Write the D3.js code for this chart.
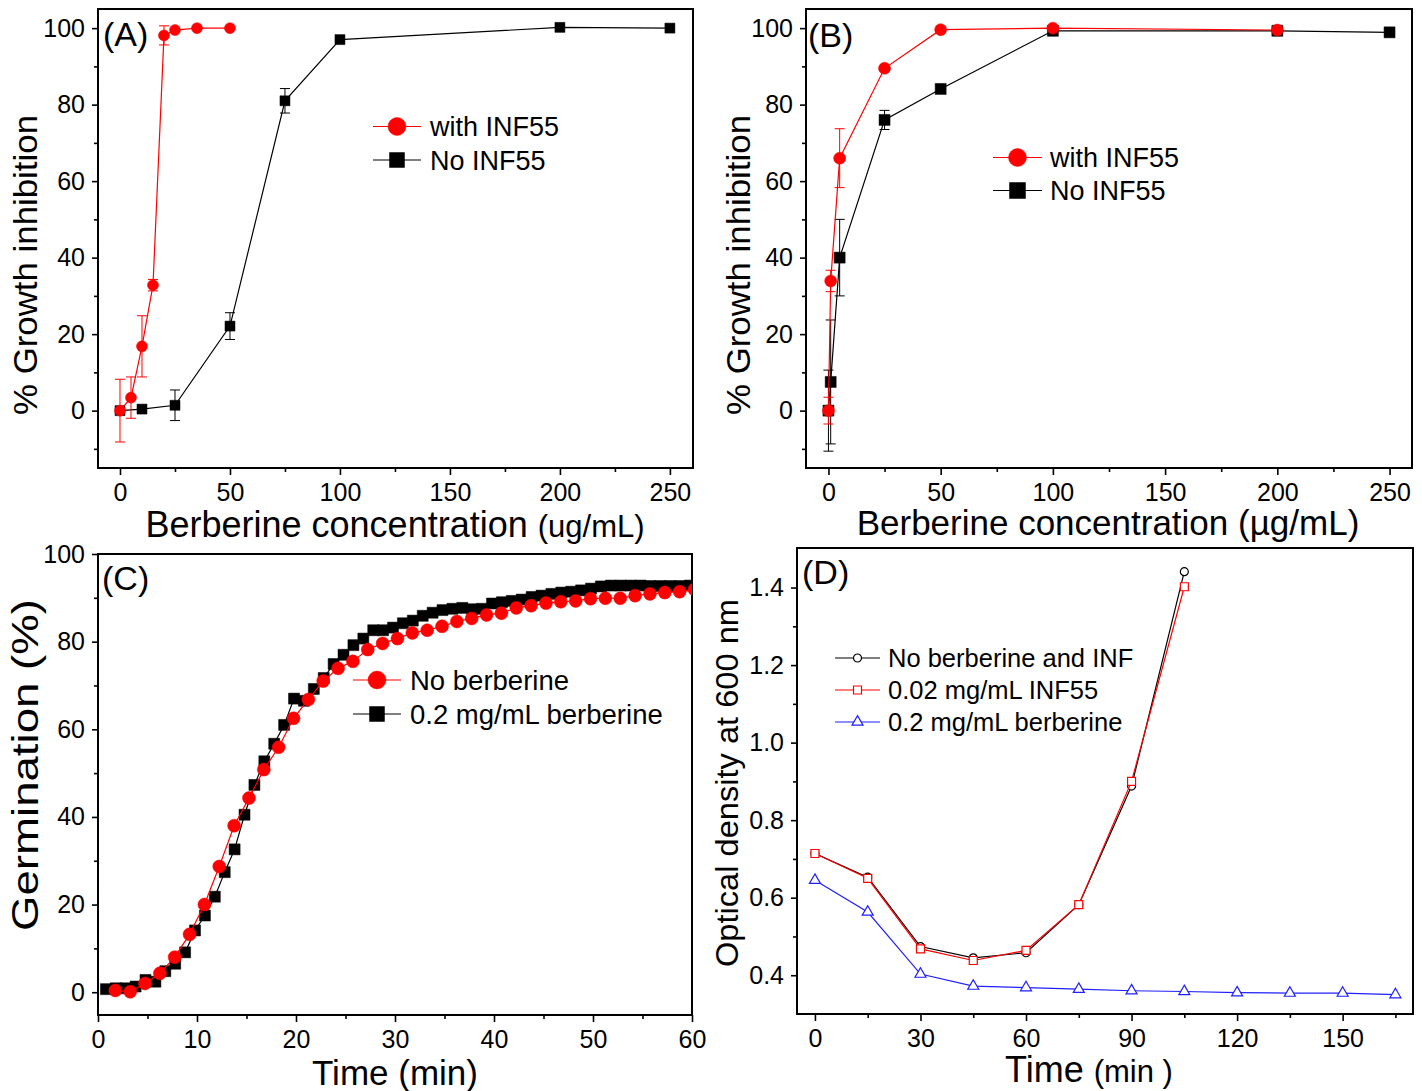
<!DOCTYPE html>
<html>
<head>
<meta charset="utf-8">
<script src="https://cdn.jsdelivr.net/npm/d3@7"></script>
<style>
    body { margin: 0; background: #fff; }
    svg { font-family: "Liberation Sans", Arial, sans-serif; }
    .axis text { font-family: "Liberation Sans Narrow", "Arial Narrow", "Liberation Sans", sans-serif; font-size: 25px; fill: #000; }
    .axis line { stroke: #000; stroke-width: 1.6; }
</style>
</head>
<body>
<div id="chart"></div>
<script>
// ---- panel A: growth inhibition vs berberine ----
const concA_inf = [0, 5, 10, 15, 20, 25, 35, 50];
const inhibA_inf = [0, 3.4, 16.8, 32.8, 98.1, 99.5, 100, 100];
const errA_inf = [8.2, 5.4, 8, 1.5, 2.5, 0, 0, 0];
const concA_no = [0, 10, 25, 50, 75, 100, 200, 250];
const inhibA_no = [0, 0.4, 1.4, 22.1, 81.0, 97.0, 100.2, 100];
const errA_no = [0, 0, 4, 3.5, 3.2, 0, 0, 0];

// ---- panel B ----
const concB_inf = [0, 1, 5, 25, 50, 100, 200];
const inhibB_inf = [0, 33.9, 66.0, 89.5, 99.6, 100, 99.5];
const errB_inf = [3.5, 2.8, 7.7, 0, 0, 0, 0];
const concB_no = [0, 1, 5, 25, 50, 100, 200, 250];
const inhibB_no = [0, 7.5, 40.0, 76.0, 84.1, 99.3, 99.3, 98.9];
const errB_no = [10.6, 16.2, 10, 2.5, 1, 0, 0, 0];

// ---- panel C: germination over time ----
const timeC_noBerb = [1.75, 3.25, 4.75, 6.25, 7.75, 9.25, 10.75, 12.25, 13.75, 15.25,
    16.75, 18.25, 19.75, 21.25, 22.75, 24.25, 25.75, 27.25, 28.75, 30.25,
    31.75, 33.25, 34.75, 36.25, 37.75, 39.25, 40.75, 42.25, 43.75, 45.25,
    46.75, 48.25, 49.75, 51.25, 52.75, 54.25, 55.75, 57.25, 58.75, 60.25];
const germC_noBerb = [0.4, 0.1, 2.0, 4.3, 8.0, 13.2, 20.0, 28.7, 38.0, 44.3,
    50.8, 55.9, 62.5, 66.8, 71.0, 73.9, 75.5, 78.2, 79.6, 80.7,
    82.0, 82.6, 83.5, 84.6, 85.3, 86.1, 86.5, 87.7, 88.2, 88.8,
    89.1, 89.3, 89.8, 89.9, 89.9, 90.5, 90.9, 91.2, 91.4, 91.9];
const timeC_berb = [0.8, 1.8, 2.8, 3.8, 4.8, 5.8, 6.8, 7.8, 8.8, 9.8,
    10.8, 11.8, 12.8, 13.8, 14.8, 15.8, 16.8, 17.8, 18.8, 19.8,
    20.8, 21.8, 22.8, 23.8, 24.8, 25.8, 26.8, 27.8, 28.8, 29.8,
    30.8, 31.8, 32.8, 33.8, 34.8, 35.8, 36.8, 37.8, 38.8, 39.8,
    40.8, 41.8, 42.8, 43.8, 44.8, 45.8, 46.8, 47.8, 48.8, 49.8,
    50.8, 51.8, 52.8, 53.8, 54.8, 55.8, 56.8, 57.8, 58.8, 59.8];
const germC_berb = [0.7, 0.9, 0.9, 1.3, 2.8, 2.4, 4.8, 6.5, 9.1, 14.1,
    17.5, 21.8, 27.4, 32.6, 40.5, 47.3, 52.7, 56.7, 61.0, 67.0,
    66.5, 69.2, 71.7, 74.9, 77.0, 79.2, 80.7, 82.6, 82.6, 83.2,
    84.2, 84.8, 85.9, 86.6, 87.2, 87.5, 87.7, 87.4, 87.5, 88.7,
    89.0, 89.3, 89.6, 90.2, 90.5, 90.9, 91.2, 91.4, 91.7, 92.1,
    92.6, 92.8, 92.8, 92.8, 92.8, 92.7, 92.7, 92.7, 92.7, 92.8];

// ---- panel D: optical density ----
const timeD = [0, 15, 30, 45, 60, 75, 90, 105, 120, 135, 150, 165];
const odD_control = [0.714, 0.653, 0.474, 0.445, 0.458, 0.582, 0.888, 1.441];
const odD_inf = [0.714, 0.650, 0.468, 0.438, 0.464, 0.582, 0.900, 1.402];
const odD_berb = [0.645, 0.563, 0.403, 0.372, 0.368, 0.364, 0.360, 0.358, 0.355, 0.354, 0.354, 0.350];

// legends / labels
const legendAB = ["with INF55", "No INF55"];
const legendC = ["No berberine", "0.2 mg/mL berberine"];
const legendD = ["No berberine and INF", "0.02 mg/mL INF55", "0.2 mg/mL berberine"];

const svg = d3.select("#chart").append("svg")
    .attr("width", 1422)
    .attr("height", 1091);

let clipId = 0;

function makePanel(box, xDomain, yDomain, xMajor, xMinor, yMajor, yMinor, yFmt) {
    let p = {};
    p.box = box;
    p.x = d3.scaleLinear().domain(xDomain).range([box.left, box.right]);
    p.y = d3.scaleLinear().domain(yDomain).range([box.bottom, box.top]);

    // minor ticks
    svg.append("g").attr("class", "axis")
        .attr("transform", "translate(0," + box.bottom + ")")
        .call(d3.axisBottom(p.x).tickValues(xMinor).tickSize(4).tickSizeOuter(0).tickFormat(""))
        .select(".domain").remove();
    svg.append("g").attr("class", "axis")
        .attr("transform", "translate(" + box.left + ",0)")
        .call(d3.axisLeft(p.y).tickValues(yMinor).tickSize(4).tickSizeOuter(0).tickFormat(""))
        .select(".domain").remove();

    // major ticks
    svg.append("g").attr("class", "axis")
        .attr("transform", "translate(0," + box.bottom + ")")
        .call(d3.axisBottom(p.x).tickValues(xMajor).tickSize(7).tickSizeOuter(0).tickPadding(8))
        .select(".domain").remove();
    svg.append("g").attr("class", "axis")
        .attr("transform", "translate(" + box.left + ",0)")
        .call(d3.axisLeft(p.y).tickValues(yMajor).tickSize(6).tickSizeOuter(0).tickPadding(7).tickFormat(yFmt))
        .select(".domain").remove();

    // frame
    svg.append("rect")
        .attr("x", box.left).attr("y", box.top)
        .attr("width", box.right - box.left).attr("height", box.bottom - box.top)
        .attr("fill", "none").attr("stroke", "#000").attr("stroke-width", 2);

    clipId++;
    svg.append("clipPath").attr("id", "clip" + clipId)
        .append("rect")
        .attr("x", box.left).attr("y", box.top)
        .attr("width", box.right - box.left).attr("height", box.bottom - box.top);
    p.g = svg.append("g").attr("clip-path", "url(#clip" + clipId + ")");
    return p;
}

function markerPath(shape, size) {
    // size = side / diameter in px
    if (shape === "circle") return d3.symbol(d3.symbolCircle, Math.PI * size * size / 4)();
    if (shape === "square") return d3.symbol(d3.symbolSquare, size * size)();
    return d3.symbol(d3.symbolTriangle, Math.sqrt(3) / 4 * size * size)();
}

function drawSeries(p, xs, ys, errs, opt) {
    let pts = ys.map((v, i) => ({x: xs[i], y: v, e: errs ? errs[i] : 0}));

    // error bars
    pts.filter(d => d.e > 0).forEach(d => {
        let top = p.y(d.y + d.e), bot = p.y(d.y - d.e), cx = p.x(d.x);
        p.g.append("line").attr("x1", cx).attr("x2", cx).attr("y1", top).attr("y2", bot)
            .attr("stroke", opt.color).attr("stroke-width", 1);
        [top, bot].forEach(yy => {
            p.g.append("line").attr("x1", cx - 5).attr("x2", cx + 5).attr("y1", yy).attr("y2", yy)
                .attr("stroke", opt.color).attr("stroke-width", 1);
        });
    });

    p.g.append("path")
        .datum(pts)
        .attr("fill", "none")
        .attr("stroke", opt.color)
        .attr("stroke-width", 1.2)
        .attr("d", d3.line().x(d => p.x(d.x)).y(d => p.y(d.y)));

    p.g.selectAll(null)
        .data(pts)
        .enter()
        .append("path")
        .attr("transform", d => "translate(" + p.x(d.x) + "," + p.y(d.y) + ")")
        .attr("d", markerPath(opt.shape, opt.size))
        .attr("fill", opt.open ? "#fff" : opt.color)
        .attr("stroke", opt.color)
        .attr("stroke-width", opt.open ? 1.2 : 0.5);
}

function drawLegend(items, x0, x1, textX, rows, fontSize) {
    items.forEach((it, i) => {
        let yy = rows[i];
        svg.append("line").attr("x1", x0).attr("x2", x1).attr("y1", yy).attr("y2", yy)
            .attr("stroke", it.color).attr("stroke-width", 1.2);
        svg.append("path")
            .attr("transform", "translate(" + ((x0 + x1) / 2) + "," + yy + ")")
            .attr("d", markerPath(it.shape, it.size))
            .attr("fill", it.open ? "#fff" : it.color)
            .attr("stroke", it.color)
            .attr("stroke-width", it.open ? 1.2 : 0.5);
        svg.append("text").attr("x", textX).attr("y", yy).attr("dy", "0.36em")
            .attr("font-size", fontSize).text(it.label);
    });
}

function label(x, y, txt, size, rotate, len) {
    let t = svg.append("text").attr("font-size", size).attr("text-anchor", "middle");
    if (rotate) t.attr("transform", "translate(" + x + "," + y + ") rotate(-90)");
    else t.attr("x", x).attr("y", y);
    if (len) t.attr("textLength", len).attr("lengthAdjust", "spacingAndGlyphs");
    return t.text(txt);
}

// ---------- Panel A ----------
let pA = makePanel({left: 98, top: 9, right: 693, bottom: 468}, [-10, 260.5], [-15, 105],
    d3.range(0, 251, 50), d3.range(25, 251, 50), d3.range(0, 101, 20), d3.range(-10, 101, 20), d3.format("d"));
drawSeries(pA, concA_no, inhibA_no, errA_no, {color: "#000", shape: "square", size: 10});
drawSeries(pA, concA_inf, inhibA_inf, errA_inf, {color: "#ff0000", shape: "circle", size: 11});
drawLegend([
    {label: legendAB[0], color: "#ff0000", shape: "circle", size: 18},
    {label: legendAB[1], color: "#000", shape: "square", size: 15}
], 373, 421, 430, [126.5, 160], 27);
svg.append("text").attr("x", 103).attr("y", 46).attr("font-size", 34).text("(A)");
label(37, 265, "% Growth inhibition", 34, true, 300);
let tA = svg.append("text").attr("x", 395).attr("y", 537).attr("text-anchor", "middle").attr("font-size", 36);
tA.append("tspan").text("Berberine concentration ");
tA.append("tspan").attr("font-size", 31).text("(ug/mL)");

// ---------- Panel B ----------
let pB = makePanel({left: 806, top: 9, right: 1412, bottom: 468}, [-10, 260], [-15, 105],
    d3.range(0, 251, 50), d3.range(25, 251, 50), d3.range(0, 101, 20), d3.range(-10, 101, 20), d3.format("d"));
drawSeries(pB, concB_no, inhibB_no, errB_no, {color: "#000", shape: "square", size: 11});
drawSeries(pB, concB_inf, inhibB_inf, errB_inf, {color: "#ff0000", shape: "circle", size: 12});
drawLegend([
    {label: legendAB[0], color: "#ff0000", shape: "circle", size: 18},
    {label: legendAB[1], color: "#000", shape: "square", size: 16}
], 993, 1042, 1050, [157.5, 190.5], 27);
svg.append("text").attr("x", 808).attr("y", 47).attr("font-size", 34).text("(B)");
label(750, 265, "% Growth inhibition", 34, true, 300);
label(1108, 535, "Berberine concentration (\u00b5g/mL)", 35, false);

// ---------- Panel C ----------
let pC = makePanel({left: 98, top: 554, right: 692, bottom: 1015}, [0, 60], [-5.2, 100],
    d3.range(0, 61, 10), d3.range(5, 61, 10), d3.range(0, 101, 20), d3.range(10, 101, 20), d3.format("d"));
drawSeries(pC, timeC_berb, germC_berb, null, {color: "#000", shape: "square", size: 11});
drawSeries(pC, timeC_noBerb, germC_noBerb, null, {color: "#ff0000", shape: "circle", size: 13});
drawLegend([
    {label: legendC[0], color: "#ff0000", shape: "circle", size: 18},
    {label: legendC[1], color: "#000", shape: "square", size: 15}
], 353, 401, 410, [680, 714], 27.5);
svg.append("text").attr("x", 102).attr("y", 590).attr("font-size", 34).text("(C)");
label(38, 765, "Germination (%)", 36, true, 332);
label(395, 1085, "Time (min)", 35, false);

// ---------- Panel D ----------
let pD = makePanel({left: 797, top: 548, right: 1413, bottom: 1014}, [-5.1, 170], [0.3, 1.502],
    d3.range(0, 151, 30), d3.range(15, 166, 30), [0.4, 0.6, 0.8, 1.0, 1.2, 1.4], [0.5, 0.7, 0.9, 1.1, 1.3], d3.format(".1f"));
drawSeries(pD, timeD, odD_control, null, {color: "#000", shape: "circle", size: 8, open: true});
drawSeries(pD, timeD, odD_inf, null, {color: "#ff0000", shape: "square", size: 8, open: true});
drawSeries(pD, timeD, odD_berb, null, {color: "#1f1fff", shape: "triangle", size: 11, open: true});
drawLegend([
    {label: legendD[0], color: "#000", shape: "circle", size: 8, open: true},
    {label: legendD[1], color: "#ff0000", shape: "square", size: 8, open: true},
    {label: legendD[2], color: "#1f1fff", shape: "triangle", size: 11, open: true}
], 835, 880, 888, [658, 690, 722], 25.5);
svg.append("text").attr("x", 802).attr("y", 584).attr("font-size", 34).text("(D)");
label(738, 783, "Optical density at 600 nm", 31, true, 368);
let tD = svg.append("text").attr("x", 1089).attr("y", 1082).attr("text-anchor", "middle").attr("font-size", 36);
tD.append("tspan").text("Time ");
tD.append("tspan").attr("font-size", 31).text("(min )");
</script>
</body>
</html>
